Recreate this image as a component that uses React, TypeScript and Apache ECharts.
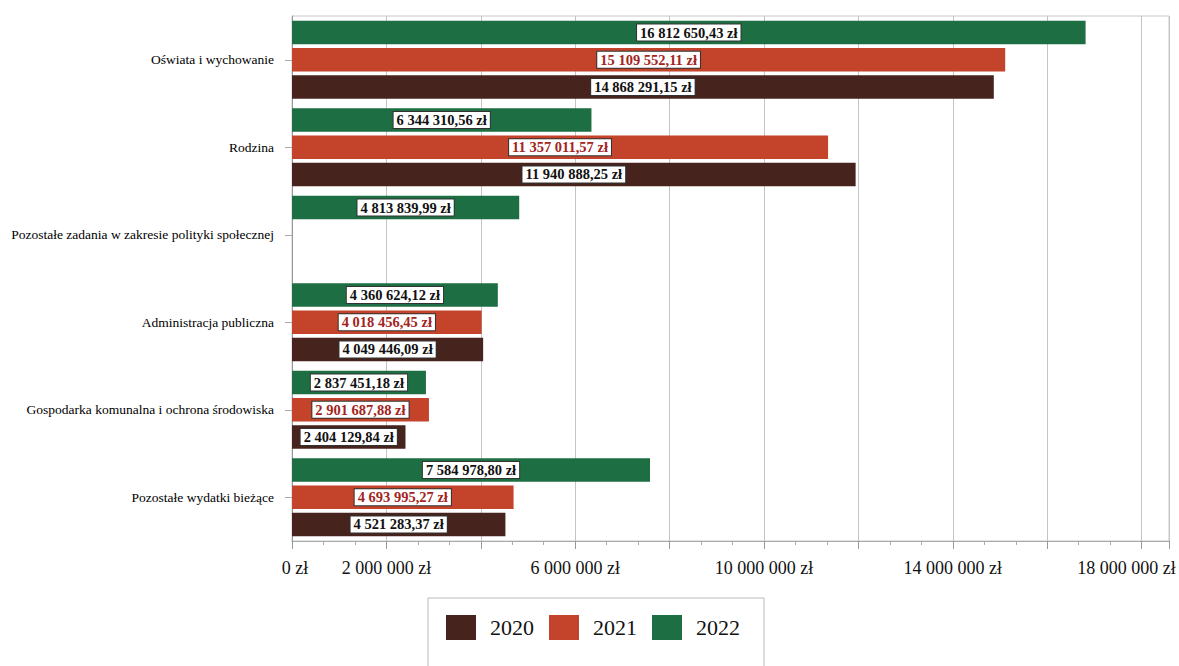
import React, { useEffect, useRef } from "react";
import * as echarts from "echarts";

const categories = [
  "Oświata i wychowanie",
  "Rodzina",
  "Pozostałe zadania w zakresie polityki społecznej",
  "Administracja publiczna",
  "Gospodarka komunalna i ochrona środowiska",
  "Pozostałe wydatki bieżące",
];
const values2020 = [14868291.15, 11940888.25, null, 4049446.09, 2404129.84, 4521283.37];
const values2021 = [15109552.11, 11357011.57, null, 4018456.45, 2901687.88, 4693995.27];
const values2022 = [16812650.43, 6344310.56, 4813839.99, 4360624.12, 2837451.18, 7584978.8];
const shownTicks = [0, 2000000, 6000000, 10000000, 14000000, 18000000];
const seriesNames = ["2020", "2021", "2022"];

const colors: Record<string, string> = { "2020": "#47231d", "2021": "#c4432b", "2022": "#1d6e43" };
const labelColors: Record<string, string> = { "2020": "#111", "2021": "#a3241c", "2022": "#111" };

function fmtPl(v: number, dec: number): string {
  const fixed = v.toFixed(dec);
  const [intPart, decPart] = fixed.split(".");
  const withSpaces = intPart.replace(/\B(?=(\d{3})+(?!\d))/g, " ");
  return decPart ? withSpaces + "," + decPart + " zł" : withSpaces + " zł";
}

const FONT = "'Liberation Serif', 'DejaVu Serif', serif";

export default function App() {
  const ref = useRef<HTMLDivElement>(null);
  useEffect(() => {
    if (!ref.current) return;
    const chart = echarts.init(ref.current, null, { renderer: "svg" });
    const dataMap: Record<string, (number | null)[]> = {
      "2020": values2020,
      "2021": values2021,
      "2022": values2022,
    };
    const order = ["2022", "2021", "2020"];
    chart.setOption({
      animation: false,
      backgroundColor: "#fff",
      grid: { left: 292, top: 16, right: 10, bottom: 125, show: true, borderColor: "#c8c8c8", borderWidth: 1 },
      legend: {
        data: seriesNames,
        left: 428,
        top: 598,
        orient: "horizontal",
        itemWidth: 30,
        itemHeight: 25,
        itemGap: 15,
        padding: [17, 24, 30, 18],
        borderColor: "#bbb",
        borderWidth: 1,
        icon: "rect",
        textStyle: { fontFamily: FONT, fontSize: 22, color: "#111", padding: [0, 0, 0, 9] },
      },
      xAxis: {
        type: "value",
        min: 0,
        max: 18580000,
        interval: 2000000,
        axisLine: { show: true, lineStyle: { color: "#aaa" } },
        axisTick: { show: true, length: 8, lineStyle: { color: "#999" } },
        minorTick: { show: true, splitNumber: 3, length: 4, lineStyle: { color: "#aaa" } },
        splitLine: { show: true, lineStyle: { color: "#c4c4c4" } },
        axisLabel: {
          margin: 18,
          fontFamily: FONT,
          fontSize: 18,
          color: "#111",
          showMaxLabel: false,
          formatter: (v: number) => {
            if (!shownTicks.includes(v)) return "";
            const s = fmtPl(v, 0);
            if (v === 0) return "{first|" + s + "}";
            if (v === 18000000) return "{last|" + s + "}";
            return s;
          },
          rich: {
            first: { fontFamily: FONT, fontSize: 18, color: "#111", padding: [0, 0, 0, 6] },
            last: { fontFamily: FONT, fontSize: 18, color: "#111", padding: [0, 30, 0, 0] },
          },
        },
      },
      yAxis: {
        type: "category",
        data: categories,
        inverse: true,
        axisLine: { show: true, lineStyle: { color: "#999" } },
        axisTick: { show: true, alignWithLabel: true, length: 7, lineStyle: { color: "#aaa" } },
        axisLabel: { fontFamily: FONT, fontSize: 13.5, color: "#000", margin: 18 },
      },
      series: order.map((name) => ({
        name,
        type: "bar",
        data: dataMap[name],
        barCategoryGap: "11%",
        barGap: "16%",
        itemStyle: { color: colors[name] },
        label: {
          show: true,
          position: "inside",
          formatter: (p: any) => fmtPl(p.value, 2),
          fontFamily: FONT,
          fontSize: 14.5,
          fontWeight: "bold",
          color: labelColors[name],
          backgroundColor: "#fff",
          borderColor: "#333",
          borderWidth: 1,
          padding: [1, 3, 0, 3],
        },
      })),
    });
    return () => chart.dispose();
  }, []);
  return (
    <div
      ref={ref}
      style={{ position: "fixed", left: 0, top: 0, width: 1179, height: 666, background: "#fff" }}
    />
  );
}
